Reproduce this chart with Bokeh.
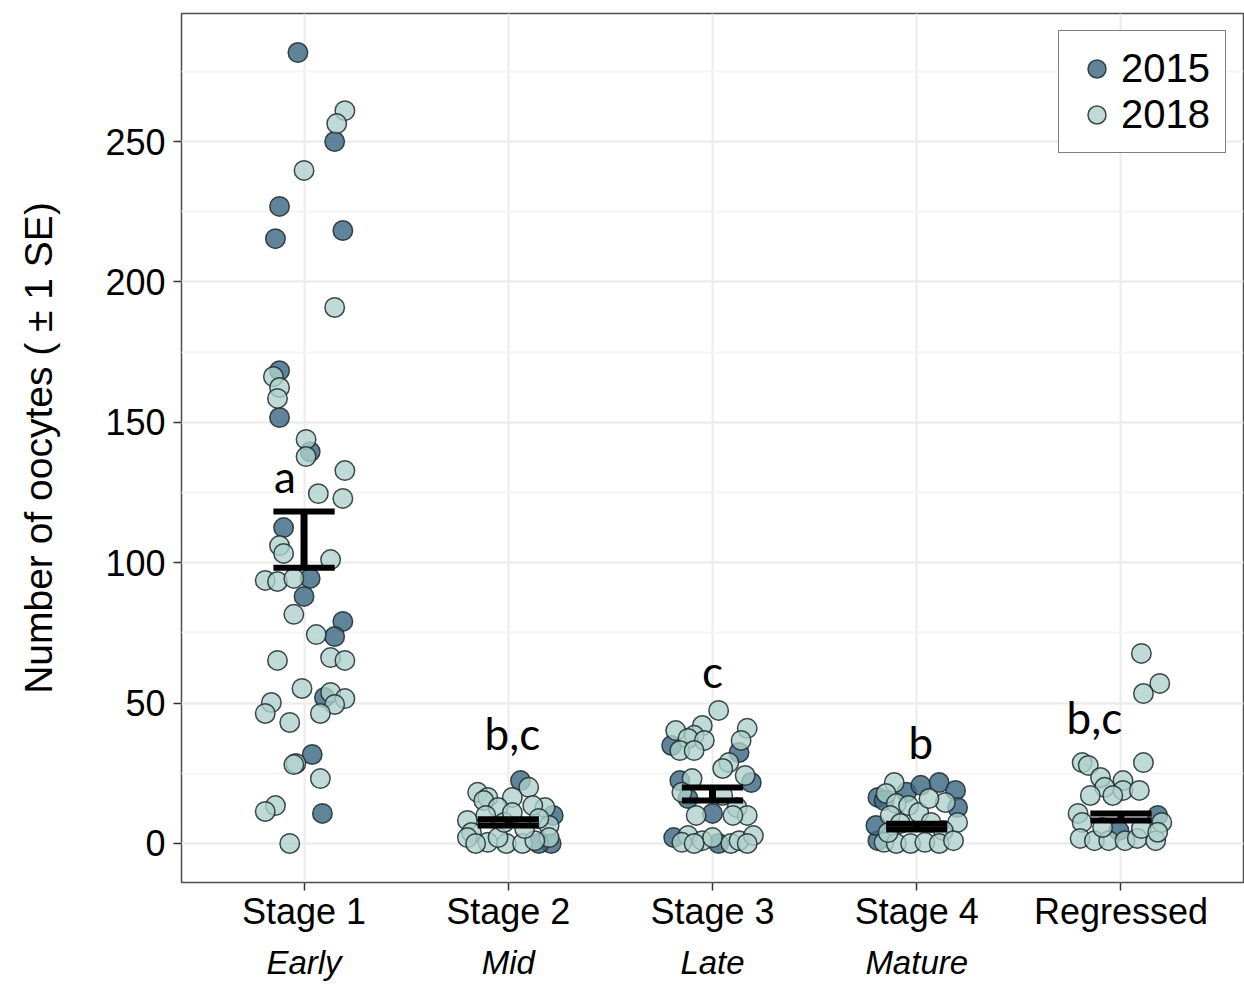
from bokeh.plotting import figure
from bokeh.models import (Range1d, FixedTicker, SingleIntervalTicker, LinearAxis,
                          ColumnDataSource, Legend, LegendItem)
from bokeh.core.properties import value
from bokeh.embed import file_html
from bokeh.resources import INLINE

# ---------------- data ----------------
stage_labels = ["Stage 1", "Stage 2", "Stage 3", "Stage 4", "Regressed"]
phase_labels = ["Early", "Mid", "Late", "Mature", ""]

# 2015 points: stage index, horizontal jitter (category units), count
s2015_stage = [1]*16 + [2]*4 + [3]*8 + [4]*9 + [5]*2
s2015_jit = [-0.03, 0.15, -0.12, -0.14, 0.19, -0.12, -0.12, 0.03, -0.10, 0.03, 0.00, 0.19, 0.15, 0.10, 0.04, 0.09,
             0.06, 0.22, 0.21, 0.15,
             -0.20, 0.13, -0.16, 0.19, -0.12, 0.00, -0.19, 0.03,
             -0.19, -0.16, -0.05, 0.02, 0.11, 0.19, 0.20, -0.19, -0.20,
             0.18, -0.01]
s2015_count = [281.7, 250, 226.9, 215.4, 218.3, 168.4, 151.7, 139.5, 112.5, 94.4, 88, 79.1, 73.7, 52, 31.7, 10.7,
               22.4, 10, 0, 0,
               34.9, 32.4, 22.4, 21.7, 16, 10.7, 2.1, 0,
               16.4, 15.3, 18.2, 20.7, 21.7, 18.9, 12.8, 1, 6.4,
               10, 4.6]

# 2018 points
s2018_stage = [1]*37 + [2]*24 + [3]*29 + [4]*19 + [5]*25
s2018_jit = [0.20, 0.16, 0.00, 0.15, -0.15, -0.12, -0.13, 0.01, 0.01, 0.20, 0.07, 0.19, -0.12, -0.10, 0.13,
             -0.19, -0.13, -0.05, -0.05, 0.06, -0.13, 0.13, 0.20, -0.01, -0.16, -0.19, -0.07, 0.13, 0.20,
             0.15, 0.08, -0.04, -0.05, 0.08, -0.14, -0.19, -0.07,
             0.10, -0.15, -0.10, -0.12, 0.02, -0.05, 0.18, 0.12, -0.20, 0.20, -0.18, -0.20, 0.20, -0.10,
             -0.01, 0.07, 0.13, -0.05, -0.16, 0.08, -0.02, 0.15, 0.02, -0.11,
             0.03, -0.05, -0.18, 0.17, -0.09, -0.12, -0.04, 0.14, -0.16, -0.09, 0.08, 0.05, 0.16, -0.10,
             -0.15, 0.05, 0.12, -0.08, 0.17, 0.10, -0.12, -0.15, -0.05, 0.00, 0.09, 0.13, 0.20, 0.17, -0.09,
             -0.11, -0.15, -0.10, -0.04, 0.14, -0.13, 0.01, 0.07, 0.20, -0.08, 0.13, -0.16, -0.10, -0.03,
             0.04, 0.11, 0.18, -0.14, 0.06,
             0.10, 0.19, 0.11, -0.19, -0.16, 0.11, -0.10, 0.01, -0.08, 0.01, -0.15, 0.09, -0.04, -0.21,
             -0.19, 0.20, -0.20, -0.13, -0.06, 0.02, 0.08, 0.17, -0.09, 0.10, 0.18]
s2018_count = [261, 256.4, 239.7, 190.9, 166.3, 162.4, 158.5, 143.9, 137.8, 132.8, 124.6, 122.9, 106.1, 103.3, 101.1,
               93.7, 93.3, 94.4, 81.6, 74.4, 65.2, 66.2, 65.2, 55.2, 50.2, 46.3, 43.1, 53.8, 51.6,
               49.5, 46.3, 28.5, 28.1, 23.1, 13.5, 11.4, 0,
               20, 18.2, 16.4, 15.3, 16.4, 12.8, 12.8, 13.5, 8.2, 6.4, 3.9, 2.1, 2.1, 0.4,
               0, 0, 1, 2.1, 0, 5.3, 7.5, 8.9, 11, 10,
               47.4, 42, 40.2, 41, 38.5, 37.4, 36.7, 36.7, 33.1, 33.1, 28.8, 26.7, 24.2, 23.1,
               18.2, 17.1, 12.8, 10, 10, 10, 2.8, 0.4, 1, 2.1, 0, 1, 2.8, 0, 0,
               21.7, 17.8, 14.2, 13.5, 14.6, 10, 11, 7.5, 7.5, 7.1, 4.6, 0.4, 0, 0,
               0.4, 0, 1, 3.9, 16,
               67.7, 57, 53.4, 28.8, 27.8, 28.8, 23.5, 22.4, 20, 18.9, 17.1, 18.9, 17.1, 10.7,
               7.5, 7.5, 1.8, 1, 1, 1, 1.8, 1, 5.7, 5.3, 4]

# means and standard errors per stage
mean_count = [108.2, 7.5, 17.6, 6.0, 9.4]
se_count = [10.0, 1.1, 2.3, 1.0, 1.25]

# significance letters
sig_letters = ["a", "b,c", "c", "b", "b,c"]
sig_x = [0.907, 2.02, 3.0, 4.02, 4.87]
sig_y = [131.0, 39.5, 61.5, 36.0, 45.0]

# ---------------- figure ----------------
p = figure(width=1244, height=997, output_backend="svg", toolbar_location=None,
           x_range=Range1d(0.4, 5.6), y_range=Range1d(-13.9, 295.6),
           min_border_left=181, min_border_right=1, min_border_top=13, min_border_bottom=115)
p.background_fill_color = "white"
p.border_fill_color = "white"
p.outline_line_color = "#4d4d4d"
p.outline_line_width = 1.5

positions = list(range(1, 6))
xa = p.xaxis[0]
xa.ticker = FixedTicker(ticks=positions)
xa.major_label_overrides = {i + 1: s for i, s in enumerate(stage_labels)}
xa.axis_line_color = None
xa.major_tick_line_color = "#333333"
xa.major_tick_line_width = 1.5
xa.major_tick_out = 8
xa.major_tick_in = 0
xa.minor_tick_line_color = None
xa.major_label_standoff = 0
xa.major_label_text_font = "Liberation Sans"
xa.major_label_text_font_size = "36px"
xa.major_label_text_color = "#000000"

xa2 = LinearAxis(ticker=FixedTicker(ticks=positions),
                 major_label_overrides={i + 1: s for i, s in enumerate(phase_labels)})
xa2.axis_line_color = None
xa2.major_tick_line_color = None
xa2.minor_tick_line_color = None
xa2.major_label_standoff = 3
xa2.major_label_text_font = "Liberation Sans"
xa2.major_label_text_font_size = "33px"
xa2.major_label_text_font_style = "italic"
xa2.major_label_text_color = "#000000"
p.add_layout(xa2, "below")

ya = p.yaxis[0]
ya.ticker = SingleIntervalTicker(interval=50, num_minor_ticks=2)
ya.axis_line_color = None
ya.major_tick_line_color = "#333333"
ya.major_tick_line_width = 1.5
ya.major_tick_out = 8
ya.major_tick_in = 0
ya.minor_tick_line_color = None
ya.major_label_standoff = 8
ya.major_label_text_font = "Liberation Sans"
ya.major_label_text_font_size = "36px"
ya.major_label_text_color = "#000000"
ya.axis_label = "Number of oocytes ( \u00b1 1 SE)"
ya.axis_label_text_font = "Liberation Sans"
ya.axis_label_text_font_size = "39px"
ya.axis_label_text_font_style = "normal"
ya.axis_label_text_color = "#000000"
ya.axis_label_standoff = 42

p.xgrid.ticker = FixedTicker(ticks=positions)
p.xgrid.grid_line_color = "#ebebeb"
p.xgrid.grid_line_width = 2
p.ygrid.grid_line_color = "#ebebeb"
p.ygrid.grid_line_width = 2
p.ygrid.minor_grid_line_color = "#f4f4f4"
p.ygrid.minor_grid_line_width = 2

src15 = ColumnDataSource(dict(x=[s + j for s, j in zip(s2015_stage, s2015_jit)], y=s2015_count))
src18 = ColumnDataSource(dict(x=[s + j for s, j in zip(s2018_stage, s2018_jit)], y=s2018_count))

r15 = p.scatter("x", "y", source=src15, size=19.5, fill_color="#3d6984", fill_alpha=0.82,
                line_color="#1d2a2e", line_alpha=0.85, line_width=1.5)
r18 = p.scatter("x", "y", source=src18, size=19.5, fill_color="#aed1cc", fill_alpha=0.78,
                line_color="#1d2a2e", line_alpha=0.85, line_width=1.5)

# error bars
lo = [m - s for m, s in zip(mean_count, se_count)]
hi = [m + s for m, s in zip(mean_count, se_count)]
half = 0.15
eb = ColumnDataSource(dict(x=positions, lo=lo, hi=hi,
                           x0=[x - half for x in positions], x1=[x + half for x in positions]))
p.segment(x0="x", y0="lo", x1="x", y1="hi", source=eb, line_color="black", line_width=7)
p.segment(x0="x0", y0="hi", x1="x1", y1="hi", source=eb, line_color="black", line_width=6)
p.segment(x0="x0", y0="lo", x1="x1", y1="lo", source=eb, line_color="black", line_width=6)

# letters
p.text(x=sig_x, y=sig_y, text=sig_letters, text_font=value("Lato"), text_font_size="44px",
       text_align="center", text_baseline="middle", text_color="black")

legend = Legend(items=[LegendItem(label="2015", renderers=[r15]),
                       LegendItem(label="2018", renderers=[r18])],
                location="top_right")
legend.label_text_font = "Liberation Sans"
legend.label_text_font_size = "40px"
legend.label_text_color = "black"
legend.glyph_width = 45
legend.glyph_height = 45
legend.label_standoff = 2
legend.label_height = 45
legend.spacing = 1
legend.padding = 15
legend.margin = 17
legend.border_line_color = "black"
legend.border_line_width = 1.5
legend.background_fill_color = "white"
legend.background_fill_alpha = 1.0
p.add_layout(legend)

open("out.html", "w").write(file_html(p, INLINE))
